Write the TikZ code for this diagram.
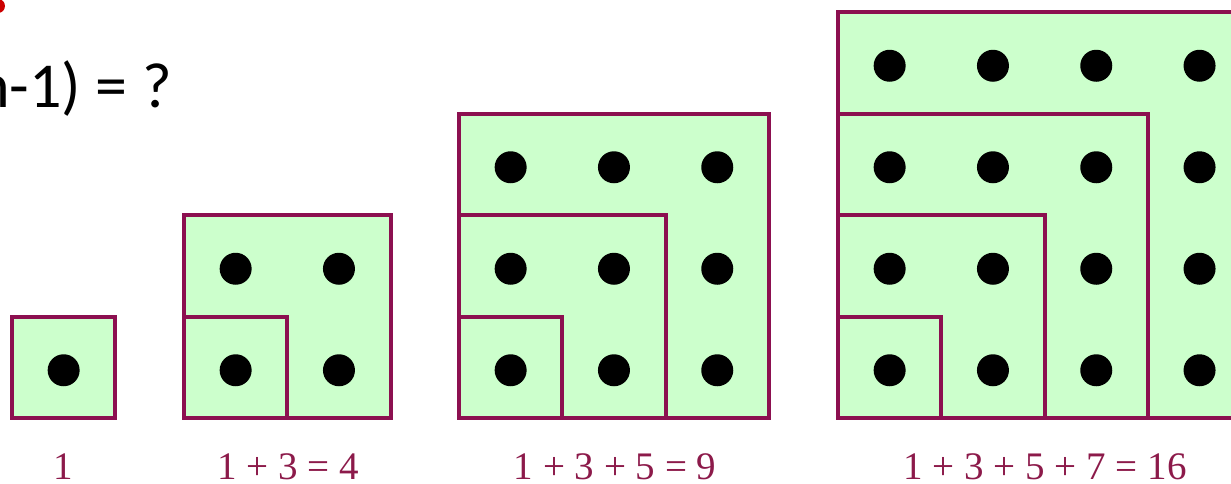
\documentclass[tikz,border=0pt]{standalone}
\usepackage{fontspec}
\setmainfont{Liberation Serif}
\newfontfamily\calib{Carlito}
\definecolor{sqborder}{RGB}{140,16,80}
\definecolor{sqfill}{RGB}{204,255,204}
\definecolor{lbl}{RGB}{140,26,74}
\definecolor{redmark}{RGB}{204,0,0}
\tikzset{
  sqline/.style={draw=sqborder,line width=4pt,line join=miter},
  dotmark/.style={fill=black},
  sumlabel/.style={anchor=base,text=lbl,font=\fontsize{39}{44}\selectfont,inner sep=0pt},
}
\newcommand{\cw}{103.3}
\newcommand{\ch}{101.5}
% \oddsq{x0}{n}
\newcommand{\oddsq}[2]{%
  \fill[sqfill] (#1,418) rectangle ({#1+#2*\cw},{418-#2*\ch});
  \foreach \k in {1,...,#2}{%
    \foreach \j in {1,...,#2}{%
      \fill[dotmark] ({#1+(\k-0.5)*\cw},{418-(\j-0.5)*\ch+3}) circle[radius=16];
    }%
  }%
  \ifnum#2>1
  \foreach \k in {1,...,\numexpr#2-1\relax}{%
    \draw[sqline] (#1,{418-\k*\ch}) -- ({#1+\k*\cw},{418-\k*\ch}) -- ({#1+\k*\cw},418);
  }%
  \fi
  \draw[sqline] (#1,418) rectangle ({#1+#2*\cw},{418-#2*\ch});
}
\begin{document}
\begin{tikzpicture}[x=1pt,y=-1pt]
\useasboundingbox (0,0) rectangle (1231,483);
\fill[redmark] (-2,6) circle[radius=7];
\node[anchor=base west,inner sep=0pt,font=\calib\fontsize{64}{70}\selectfont] (q) at (-24,107) {n-1) = ?};
\oddsq{12}{1}
\oddsq{184}{2}
\oddsq{459}{3}
\oddsq{838}{4}
\node[sumlabel] (l1) at (63,479) {1};
\node[sumlabel] (l2) at (288,479) {1 + 3 = 4};
\node[sumlabel] (l3) at (615,479) {1 + 3 + 5 = 9};
\node[sumlabel] (l4) at (1045,479) {1 + 3 + 5 + 7 = 16};
\end{tikzpicture}
\end{document}
